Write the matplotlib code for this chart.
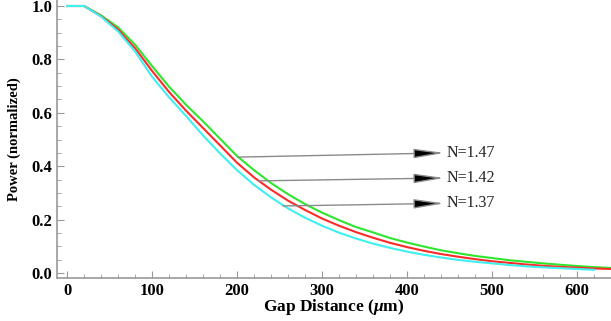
import matplotlib
matplotlib.use("Agg")
import matplotlib.pyplot as plt
from matplotlib.ticker import MultipleLocator

# gap distance in um, sampled every 20 um
gap = [0, 20, 40, 60, 80, 100, 120, 140, 160, 180, 200, 220, 240, 260, 280, 300,
       320, 340, 360, 380, 400, 420, 440, 460, 480, 500, 520, 540, 560, 580, 600, 620, 640]

power_147 = [1.000, 1.000, 0.965, 0.920, 0.855, 0.775, 0.698, 0.630, 0.568, 0.503, 0.438,
             0.385, 0.337, 0.295, 0.258, 0.226, 0.198, 0.172, 0.152, 0.131, 0.114, 0.099,
             0.085, 0.074, 0.064, 0.056, 0.048, 0.042, 0.036, 0.031, 0.026, 0.022, 0.019]
power_142 = [1.000, 1.000, 0.962, 0.912, 0.842, 0.757, 0.678, 0.608, 0.543, 0.478, 0.413,
             0.358, 0.312, 0.271, 0.236, 0.204, 0.177, 0.153, 0.132, 0.113, 0.097, 0.083,
             0.071, 0.061, 0.052, 0.044, 0.038, 0.032, 0.027, 0.023, 0.020, 0.017, 0.015]
power_137 = [1.000, 1.000, 0.960, 0.905, 0.830, 0.735, 0.658, 0.588, 0.515, 0.448, 0.385,
             0.330, 0.283, 0.242, 0.207, 0.177, 0.151, 0.129, 0.110, 0.094, 0.080, 0.068,
             0.058, 0.049, 0.042, 0.036, 0.030, 0.025, 0.021, 0.018, 0.015, 0.012]

labels = ["N=1.47", "N=1.42", "N=1.37"]
# where each arrow touches its curve, and where its label sits
arrow_points = [(201, 0.434), (225, 0.345), (254, 0.251)]
label_points = [(447, 0.450), (447, 0.356), (447, 0.261)]

plt.rcParams["font.family"] = ["Liberation Serif", "DejaVu Serif"]
plt.rcParams["mathtext.fontset"] = "custom"
plt.rcParams["mathtext.it"] = "Liberation Serif:italic:bold"
plt.rcParams["mathtext.rm"] = "Liberation Serif:bold"

fig = plt.figure(figsize=(6.11, 3.21), dpi=100)
ax = fig.add_axes([0.0933, 0.134, 0.9067, 0.866])

ax.plot(gap, power_147, color="#2ee62e", lw=1.5)
ax.plot(gap, power_142, color="#ff2a2a", lw=1.5)
ax.plot(gap[:len(power_137)], power_137, color="#40f0f0", lw=1.5)

for text, xy, xytext in zip(labels, arrow_points, label_points):
    ax.annotate(text, xy=xy, xytext=xytext, ha="left", va="center", fontsize=11.5,
                color="#222222",
                arrowprops=dict(arrowstyle="<|-,head_length=1.6,head_width=0.25",
                                ec="#8a8a8a", fc="black", lw=1.0,
                                shrinkA=0, shrinkB=0, relpos=(0, 0.5)))

ax.set_xlim(-11.8, 640)
ax.set_ylim(-0.0187, 1.0225)

ax.xaxis.set_major_locator(MultipleLocator(100))
ax.xaxis.set_minor_locator(MultipleLocator(20))
ax.yaxis.set_major_locator(MultipleLocator(0.2))
ax.yaxis.set_minor_locator(MultipleLocator(0.05))
ax.yaxis.set_major_formatter(matplotlib.ticker.FormatStrFormatter("%.1f"))

ax.tick_params(which="both", direction="in", color="#999999")
ax.tick_params(which="major", length=5, width=0.8, labelsize=12, pad=3.5)
ax.tick_params(which="minor", length=3, width=0.6)
for lab in ax.get_xticklabels() + ax.get_yticklabels():
    lab.set_fontweight("bold")

for side in ["top", "right"]:
    ax.spines[side].set_visible(False)
for side in ["left", "bottom"]:
    ax.spines[side].set_color("#999999")
    ax.spines[side].set_linewidth(1.2)

ax.set_xlabel(r"Gap Distance ($\mu$m)", fontsize=12.5, fontweight="bold", labelpad=-1)
ax.set_ylabel("Power (normalized)", fontsize=10.5, fontweight="bold")
ax.yaxis.set_label_coords(-0.065, 0.5)

fig.savefig("out.png", dpi=100)
